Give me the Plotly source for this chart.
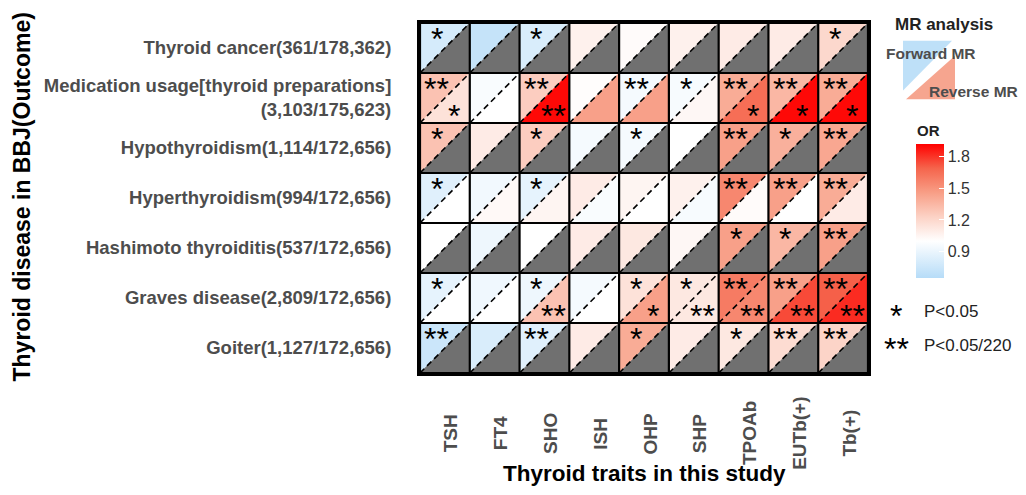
import plotly.graph_objects as go
from plotly.colors import sample_colorscale

# ---------------- data ----------------
traits = ["TSH", "FT4", "SHO", "ISH", "OHP", "SHP", "TPOAb", "EUTb(+)", "Tb(+)"]
diseases = [
    "Thyroid cancer(361/178,362)",
    "Medication usage[thyroid preparations]<br>(3,103/175,623)",
    "Hypothyroidism(1,114/172,656)",
    "Hyperthyroidism(994/172,656)",
    "Hashimoto thyroiditis(537/172,656)",
    "Graves disease(2,809/172,656)",
    "Goiter(1,127/172,656)",
]

forward_or = [
    [0.80, 0.72, 0.82, 1.07, 1.02, 1.07, 1.10, 1.10, 1.20],
    [1.30, 0.97, 1.25, 1.01, 0.95, 0.96, 1.40, 1.35, 1.40],
    [1.30, 1.10, 1.25, 0.95, 0.95, 1.00, 1.45, 1.38, 1.42],
    [0.85, 0.94, 0.88, 1.10, 1.05, 1.07, 1.55, 1.45, 1.40],
    [1.00, 0.92, 1.00, 1.10, 1.12, 1.04, 1.45, 1.35, 1.45],
    [0.88, 0.93, 0.92, 0.95, 1.15, 1.12, 1.60, 1.45, 1.70],
    [0.75, 0.82, 0.85, 1.10, 1.40, 1.10, 1.12, 1.18, 1.22],
]
forward_sig = [
    ["*", "", "*", "", "", "", "", "", "*"],
    ["**", "", "**", "", "**", "*", "**", "**", "**"],
    ["*", "", "*", "", "*", "", "**", "*", "**"],
    ["*", "", "*", "", "", "", "**", "**", "**"],
    ["", "", "", "", "", "", "*", "*", "**"],
    ["*", "", "*", "", "*", "*", "**", "**", "**"],
    ["**", "", "**", "", "*", "", "*", "**", "**"],
]
NA = [None] * 9
reverse_or = [
    NA,
    [1.15, 1.00, 1.90, 1.45, 1.45, 1.04, 1.65, 1.90, 1.90],
    NA,
    [1.00, 1.03, 1.05, 0.97, 1.00, 0.96, 1.02, 1.00, 1.10],
    NA,
    [1.00, 1.00, 1.30, 1.00, 1.45, 1.12, 1.55, 1.75, 1.82],
    NA,
]
reverse_sig = [
    [""] * 9,
    ["*", "", "**", "", "", "", "*", "*", "*"],
    [""] * 9,
    [""] * 9,
    [""] * 9,
    ["", "", "**", "", "*", "**", "**", "**", "**"],
    [""] * 9,
]
or_ticks = [0.9, 1.2, 1.5, 1.8]
sig_labels = [("*", "P<0.05"), ("**", "P<0.05/220")]

# ---------------- style ----------------
CMIN, CMAX = 0.65, 1.92
def t(v):
    return (v - CMIN) / (CMAX - CMIN)
colorscale = [
    [0.0, "rgb(182,220,248)"],
    [t(1.0), "rgb(255,255,255)"],
    [t(1.23), "rgb(252,210,197)"],
    [t(1.46), "rgb(248,158,134)"],
    [t(1.69), "rgb(245,100,76)"],
    [1.0, "rgb(255,0,0)"],
]
NA_COLOR = "rgb(112,112,112)"
FONT = "Liberation Sans, Arial, sans-serif"
GRAY_TXT = "#4d4d4d"

def fill_of(v):
    if v is None:
        return NA_COLOR
    return sample_colorscale(colorscale, [min(max(t(v), 0), 1)])[0]

# page body has an 8px margin: figure is placed at (8, 8) in the window
OFF = 8
W, H = 1026 - 2 * OFF, 495 - 2 * OFF
L, R, T, B = 420, 868, 20, 373          # plot area in window pixels
def px(x):
    return (x - L) / (R - L)
def py(y):
    return (B - y) / (B - T)

fig = go.Figure()
nr, nc = len(diseases), len(traits)

for i in range(nr):
    for j in range(nc):
        x0, x1, yt, yb = j - 0.5, j + 0.5, i - 0.5, i + 0.5
        fc = fill_of(forward_or[i][j])
        fig.add_trace(go.Scatter(
            x=[x0, x1, x0, x0], y=[yt, yt, yb, yt], fill="toself", fillcolor=fc,
            mode="lines", line=dict(width=0.6, color=fc), hoverinfo="skip", showlegend=False))
        rc = fill_of(reverse_or[i][j])
        fig.add_trace(go.Scatter(
            x=[x1, x1, x0, x1], y=[yt, yb, yb, yt], fill="toself", fillcolor=rc,
            mode="lines", line=dict(width=0.6, color=rc), hoverinfo="skip", showlegend=False))

# dashed diagonals
dx, dy = [], []
for i in range(nr):
    for j in range(nc):
        dx += [j - 0.5, j + 0.5, None]
        dy += [i + 0.5, i - 0.5, None]
fig.add_trace(go.Scatter(x=dx, y=dy, mode="lines",
                         line=dict(color="black", width=1.6, dash="6px,4px"),
                         hoverinfo="skip", showlegend=False))

# cell borders
gx, gy = [], []
for j in range(nc + 1):
    gx += [j - 0.5, j - 0.5, None]
    gy += [-0.5, nr - 0.5, None]
for i in range(nr + 1):
    gx += [-0.5, nc - 0.5, None]
    gy += [i - 0.5, i - 0.5, None]
fig.add_trace(go.Scatter(x=gx, y=gy, mode="lines", line=dict(color="black", width=2.2),
                         hoverinfo="skip", showlegend=False))

# colorbar carrier
fig.add_trace(go.Scatter(
    x=[j for i in range(nr) for j in range(nc)],
    y=[i for i in range(nr) for j in range(nc)],
    mode="markers", hoverinfo="skip", showlegend=False,
    marker=dict(size=0, opacity=0, color=[v for row in forward_or for v in row],
                colorscale=colorscale, cmin=CMIN, cmax=CMAX, showscale=True,
                colorbar=dict(x=px(916), xanchor="left", y=py(142), yanchor="top",
                              len=(277 - 142) / (B - T), lenmode="fraction",
                              thickness=28, thicknessmode="pixels", xpad=0, ypad=0,
                              outlinewidth=0, tickvals=or_ticks,
                              ticktext=[f"{v:.1f}" for v in or_ticks],
                              ticks="inside", ticklen=5, tickcolor="white", tickwidth=1,
                              tickfont=dict(family=FONT, size=16, color="#333333")))))

ann = []
STAR = dict(family=FONT, size=32, color="black")
SY = -4
for i in range(nr):
    for j in range(nc):
        if forward_sig[i][j]:
            ann.append(dict(x=j - 0.16, y=i - 0.26, xref="x", yref="y", text=forward_sig[i][j],
                            showarrow=False, font=STAR, yshift=SY))
        if reverse_sig[i][j]:
            ann.append(dict(x=j + 0.18, y=i + 0.28, xref="x", yref="y", text=reverse_sig[i][j],
                            showarrow=False, font=STAR, yshift=SY))

# x tick labels (centered, rotated)
for j, name in enumerate(traits):
    ann.append(dict(x=j, y=py(434), xref="x", yref="paper", text=name, textangle=-90,
                    showarrow=False, xanchor="center", yanchor="middle", xshift=6,
                    font=dict(family=FONT, size=19, color=GRAY_TXT, weight="bold")))

# axis titles
ann.append(dict(x=0.5, y=py(474), xref="paper", yref="paper", text="Thyroid traits in this study",
                showarrow=False, xanchor="center", yanchor="middle",
                font=dict(family=FONT, size=22.5, color="black", weight="bold")))
ann.append(dict(x=px(22), y=py(196), xref="paper", yref="paper", text="Thyroid disease in BBJ(Outcome)",
                showarrow=False, xanchor="center", yanchor="middle", textangle=-90,
                font=dict(family=FONT, size=23, color="black", weight="bold")))

# legend: MR analysis
ann.append(dict(x=px(893), y=py(22), xref="paper", yref="paper", text="MR analysis",
                showarrow=False, xanchor="left", yanchor="middle",
                font=dict(family=FONT, size=17, color="#222222", weight="bold")))
ann.append(dict(x=px(884), y=py(51), xref="paper", yref="paper", text="Forward MR",
                showarrow=False, xanchor="left", yanchor="middle",
                font=dict(family=FONT, size=15.5, color=GRAY_TXT, weight="bold")))
ann.append(dict(x=px(927), y=py(89), xref="paper", yref="paper", text="Reverse MR",
                showarrow=False, xanchor="left", yanchor="middle",
                font=dict(family=FONT, size=15.5, color=GRAY_TXT, weight="bold")))
ann.append(dict(x=px(915), y=py(128), xref="paper", yref="paper", text="OR",
                showarrow=False, xanchor="left", yanchor="middle",
                font=dict(family=FONT, size=15, color="#222222", weight="bold")))

# significance legend
for k, (s, lab) in enumerate(sig_labels):
    yy = py(311 + 34 * k)
    ann.append(dict(x=px(896), y=yy, xref="paper", yref="paper", text=s, showarrow=False,
                    xanchor="center", yanchor="middle", font=STAR, yshift=SY))
    ann.append(dict(x=px(922), y=yy, xref="paper", yref="paper", text=lab, showarrow=False,
                    xanchor="left", yanchor="middle",
                    font=dict(family=FONT, size=17, color="#222222")))

shapes = [
    dict(type="path", xref="paper", yref="paper",
         path=f"M {px(903)},{py(38)} L {px(952)},{py(38)} L {px(903)},{py(88)} Z",
         fillcolor="rgb(190,224,248)", line=dict(width=0), layer="below"),
    dict(type="path", xref="paper", yref="paper",
         path=f"M {px(955)},{py(53)} L {px(955)},{py(97)} L {px(906)},{py(97)} Z",
         fillcolor="rgb(246,165,143)", line=dict(width=0), layer="below"),
]

fig.update_layout(
    width=W, height=H,
    margin=dict(l=L - OFF, r=W - (R - OFF), t=T - OFF, b=H - (B - OFF), pad=0),
    paper_bgcolor="white", plot_bgcolor="white",
    annotations=ann, shapes=shapes,
    xaxis=dict(range=[-0.5, nc - 0.5], showgrid=False, zeroline=False, showticklabels=False,
               ticks="", showline=True, mirror=True, linewidth=3, linecolor="black", fixedrange=True),
    yaxis=dict(range=[nr - 0.5, -0.5], showgrid=False, zeroline=False, tickvals=list(range(nr)),
               ticktext=diseases, ticks="", ticklabelstandoff=22,
               tickfont=dict(family=FONT, size=18.5, color=GRAY_TXT, weight="bold"),
               showline=True, mirror=True, linewidth=3, linecolor="black", fixedrange=True),
)

fig.write_html("out.html")
